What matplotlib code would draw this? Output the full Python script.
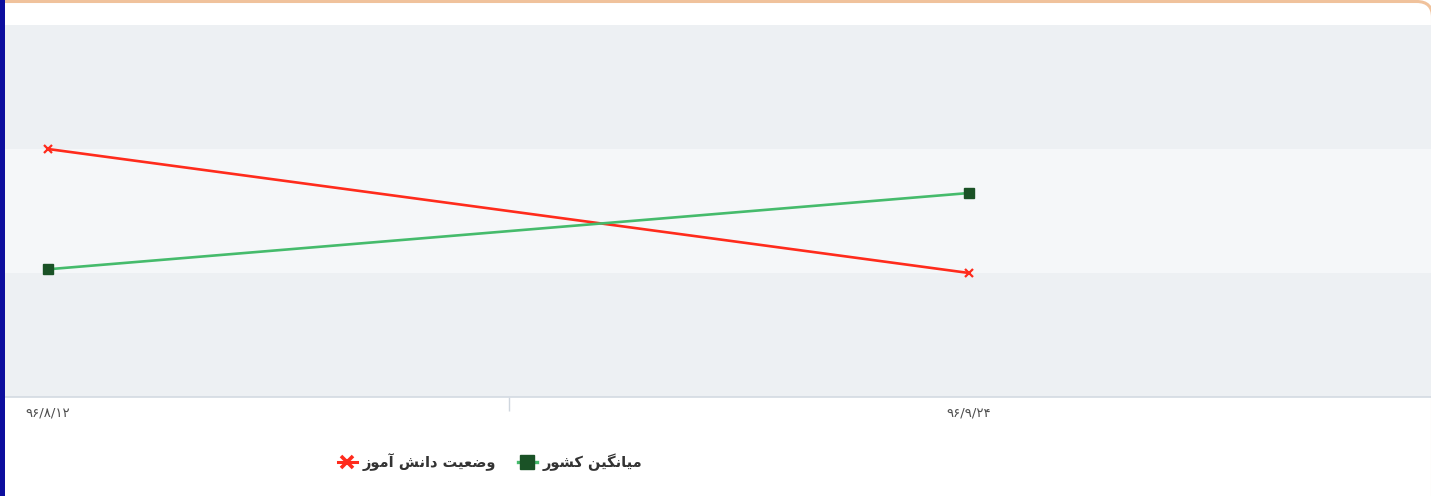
import matplotlib
matplotlib.use("Agg")
import matplotlib.pyplot as plt
from matplotlib.lines import Line2D
from matplotlib.patches import Rectangle, FancyBboxPatch

# ---------------- data ----------------
dates = ["۹۶/۸/۱۲", "۹۶/۹/۲۴"]
student_status = [2.0, 1.0]       # وضعیت دانش آموز
national_average = [1.03, 1.645]  # میانگین کشور
series_names = ["وضعیت دانش آموز", "میانگین کشور"]

# ---------------- simple Persian shaping ----------------
FORMS = {  # isolated, final, initial, medial
    'ا': ('\uFE8D', '\uFE8E', None, None),
    'آ': ('\uFE81', '\uFE82', None, None),
    'د': ('\uFEA9', '\uFEAA', None, None),
    'ر': ('\uFEAD', '\uFEAE', None, None),
    'ز': ('\uFEAF', '\uFEB0', None, None),
    'و': ('\uFEED', '\uFEEE', None, None),
    'م': ('\uFEE1', '\uFEE2', '\uFEE3', '\uFEE4'),
    'ن': ('\uFEE5', '\uFEE6', '\uFEE7', '\uFEE8'),
    'ی': ('\uFBFC', '\uFBFD', '\uFBFE', '\uFBFF'),
    'ک': ('\uFB8E', '\uFB8F', '\uFB90', '\uFB91'),
    'گ': ('\uFB92', '\uFB93', '\uFB94', '\uFB95'),
    'ش': ('\uFEB5', '\uFEB6', '\uFEB7', '\uFEB8'),
    'ض': ('\uFEBD', '\uFEBE', '\uFEBF', '\uFEC0'),
    'ع': ('\uFEC9', '\uFECA', '\uFECB', '\uFECC'),
    'ت': ('\uFE95', '\uFE96', '\uFE97', '\uFE98'),
}


def shape(text):
    out = []
    n = len(text)
    for i, ch in enumerate(text):
        if ch not in FORMS:
            out.append(ch)
            continue
        f = FORMS[ch]
        prev = text[i - 1] if i > 0 else None
        nxt = text[i + 1] if i < n - 1 else None
        join_prev = prev in FORMS and FORMS[prev][2] is not None
        join_next = nxt in FORMS and f[2] is not None
        if join_prev and join_next:
            out.append(f[3])
        elif join_prev:
            out.append(f[1])
        elif join_next:
            out.append(f[2])
        else:
            out.append(f[0])
    return "".join(out)[::-1]


plt.rcParams['font.family'] = ['DejaVu Sans']

W, H = 1431, 496
fig = plt.figure(figsize=(W / 100, H / 100), dpi=100)
fig.patch.set_facecolor('white')

# card border (only top and top-right corner visible) and left blue bar
card = FancyBboxPatch((-30 / W, -40 / H), (W + 30 + 1.5) / W, (H + 40 - 1.5) / H,
                      boxstyle="round,pad=0,rounding_size=0.011",
                      transform=fig.transFigure, facecolor='white',
                      edgecolor='#f0c29c', linewidth=2.2, zorder=-10,
                      mutation_aspect=W / H)
fig.patches.append(card)
fig.patches.append(Rectangle((0, 0), 5 / W, 1, transform=fig.transFigure,
                             facecolor='#0d0e9e', edgecolor='none', zorder=5))

ax_left, ax_right, ax_top, ax_bottom = 5, 1431, 25, 397
ax = fig.add_axes([ax_left / W, 1 - ax_bottom / H,
                   (ax_right - ax_left) / W, (ax_bottom - ax_top) / H])
ax.set_facecolor('none')
ax.set_zorder(1)

x = list(range(len(dates)))
ax.set_xlim(-43 / 921, 1 + 462 / 921)
ax.set_ylim(0, 3)

# plot bands
band_colors = ['#edf0f3', '#f5f7f9', '#edf0f3']
for i, c in enumerate(band_colors):
    ax.axhspan(i, i + 1, facecolor=c, edgecolor='none', zorder=0)

ax.plot(x, student_status, color='#ff2b1c', linewidth=1.9, marker='x',
        markersize=5.5, markeredgewidth=1.6, zorder=3)
ax.plot(x, national_average, color='#45bb6c', linewidth=1.9, marker='s',
        markersize=7, markerfacecolor='#1a5226', markeredgecolor='#1a5226',
        zorder=3)

for s in ['top', 'right', 'left']:
    ax.spines[s].set_visible(False)
ax.spines['bottom'].set_color('#d3dae2')
ax.spines['bottom'].set_linewidth(1.2)
ax.set_yticks([])
ax.set_xticks(x)
ax.set_xticklabels(dates, fontsize=9.5, color='#4d4d4d')
ax.tick_params(axis='x', length=0, pad=7)
ax.set_xticks([0.5], minor=True)
ax.tick_params(axis='x', which='minor', length=10, color='#cfd6de', width=1)

handles = [
    Line2D([], [], color='#ff2b1c', linewidth=2.2, marker='x', markersize=9,
           markeredgewidth=2.6),
    Line2D([], [], color='#45bb6c', linewidth=2.4, marker='s', markersize=10,
           markerfacecolor='#1a5226', markeredgecolor='#1a5226'),
]
leg = fig.legend(handles, [shape(s) for s in series_names],
                 loc='center', bbox_to_anchor=(490 / W, 1 - 462 / H),
                 ncol=2, frameon=False, handlelength=1.3, handletextpad=0.4,
                 columnspacing=1.5,
                 prop={'size': 10.5, 'weight': 'bold'})
for t in leg.get_texts():
    t.set_color('#333333')

fig.savefig('out.png', dpi=100, facecolor='white')
